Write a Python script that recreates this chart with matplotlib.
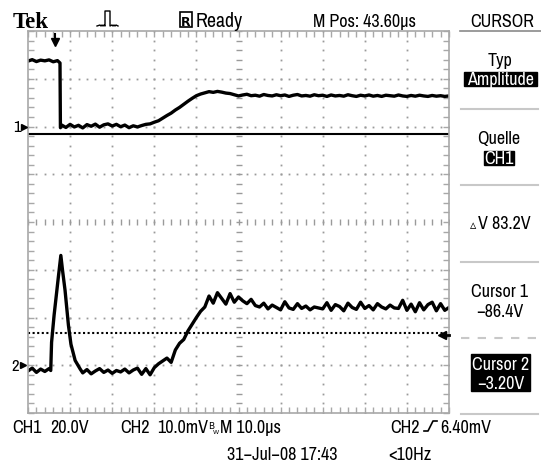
import matplotlib
matplotlib.use("Agg")
import numpy as np
import matplotlib.pyplot as plt
import matplotlib.font_manager as fm
from matplotlib.patches import Rectangle

# --- acquisition settings ---
ch1_scale = 20.0      # V/div
ch2_scale = 10.0      # mV/div
ch1_ground = 2.0      # div
ch2_ground = -3.0     # div
cursor1_v = -86.4     # V (CH1)
cursor2_v = -3.20     # V (CH1)
trig_level_mv = 6.40  # mV (CH2)
trig_pos_us = 6.4     # us from left edge

# --- CH1 trace (time in us, value in V) ---
ch1_time = [0, 1, 2, 3, 4, 5, 6, 7, 7.6, 7.7] + list(range(8, 101))
ch1_volts = [
    27.4, 28.0, 27.2, 27.8, 27.5, 27.9, 27.1, 27.6, 26.6, -0.5,
    0.6, -0.4, 0.9, -0.2, 0.5, -0.6, 0.8, 0.1, 1.0, -0.3, 0.7,
    1.1, 0.2, 0.9, -0.1, 0.6, -0.5, 0.3, -0.2, 0.4, 0.9,
    1.1, 1.8, 2.4, 3.5, 4.6, 5.6, 6.9, 8.0, 9.3, 10.6, 11.8, 12.9,
    13.6, 14.1, 14.6, 14.3, 14.7, 14.4, 14.0, 13.8,
    13.3, 12.8, 13.2, 13.5, 12.9, 13.1, 12.7, 13.4, 13.0, 12.8, 13.3, 12.9, 13.2,
    12.6, 13.1, 13.4, 12.8, 13.0, 12.7, 13.3, 12.9, 13.1, 12.6, 13.2, 12.8, 13.0,
    12.7, 13.3, 12.9, 12.6, 13.1, 12.8, 13.2, 12.7, 13.0, 12.6, 13.1, 12.9, 12.7,
    13.2, 12.8, 12.6, 13.0, 12.7, 13.1, 12.8, 12.6, 13.0, 12.7, 12.9, 12.6, 12.8,
]

# --- CH2 trace (time in us, value in mV) ---
ch2_time = [0, 1, 2, 3, 4, 5, 5.4, 5.6, 6.2, 7.2, 7.8, 8.2, 8.8, 9.6, 10.2,
            11.2, 12.4] + list(range(13, 101))
ch2_mv = [
    -1.2, -0.6, -1.5, -0.8, -1.3, -0.7, -1.1, 4.8, 10.5, 18.4, 23.0, 19.9,
    15.7, 8.4, 4.4, 1.0, -0.8,
    -1.6, -0.9, -1.8, -1.2, -0.7, -1.5, -1.0, -1.7, -1.1, -1.4, -0.8, -1.6,
    -1.0, -0.6, -1.9, -0.7, -2.0, -0.5,
    0.3, 0.9, 1.5, 0.6, 3.2, 4.6, 5.4, 7.2, 8.6, 10.0, 11.3, 12.2, 14.5,
    13.0, 15.2, 14.0, 12.8, 15.0, 13.2, 14.3, 13.5, 12.9, 13.8, 12.5, 12.2,
    13.0, 11.8, 12.6, 12.1, 11.6, 13.3, 12.0, 11.7, 12.9, 11.9, 12.4, 11.6,
    12.2, 12.0, 11.8, 13.1, 11.5, 12.7, 12.3, 11.4, 13.0, 12.1, 11.7, 13.2,
    11.9, 12.5, 11.6, 12.9, 12.2, 11.8, 12.6, 12.0, 11.9, 13.6, 11.5, 12.8,
    11.2, 13.1, 11.6, 12.7, 13.2, 11.4, 12.9, 11.5, 12.1,
]

GRID = "#9a9a9a"
W, H = 541, 464


def find_narrow_font():
    # prefer a narrow/condensed regular face if one is installed
    best = None
    for f in fm.fontManager.ttflist:
        if f.style != "normal" or f.weight not in (400, "normal", "regular"):
            continue
        tag = (f.name + " " + f.fname).lower()
        if "narrow" in tag:
            return f.fname
        if "condensed" in tag and "semi" not in tag and "extra" not in tag:
            best = best or f.fname
        elif f.stretch in ("condensed", "semi-condensed") and best is None:
            best = f.fname
    return best


narrow_path = find_narrow_font()
if narrow_path:
    FONT = fm.FontProperties(fname=narrow_path)
else:
    FONT = fm.FontProperties(family="Liberation Sans")

fig = plt.figure(figsize=(W / 100, H / 100), dpi=100)
fig.patch.set_facecolor("white")

# size the readout font so "M Pos: 43.60us" spans about 105 px
probe = fig.text(0, 0, "M Pos: 43.60\u00b5s", fontproperties=FONT, fontsize=12.5)
pw = probe.get_window_extent(fig.canvas.get_renderer()).width
probe.remove()
FS = min(13.0, 12.5 * 105.0 / pw)

# graticule: 10 x 8 divisions
ax = fig.add_axes([28 / W, 1 - 414 / H, 421 / W, 382 / H])
ax.set_xlim(0, 100)
ax.set_ylim(-4, 4)
for sp in ax.spines.values():
    sp.set_color("#a8a8a8")
    sp.set_linewidth(1.2)
ax.set_xticks(np.arange(0, 101, 2))
ax.set_yticks(np.arange(-4, 4.01, 0.2))
ax.tick_params(direction="in", length=4, width=1, color="#a8a8a8",
               top=True, right=True, labelbottom=False, labelleft=False)

dot_y = np.arange(-4, 4.01, 0.2)
dot_x = np.arange(0, 101, 2)
for gx in range(10, 100, 10):
    if gx == 50:
        ax.plot([gx] * len(dot_y), dot_y, ls="none", marker="_", ms=5,
                mew=1, color=GRID)
    else:
        ax.plot([gx] * len(dot_y), dot_y, ls="none", marker="s", ms=1.3,
                mew=0, color=GRID)
for gy in range(-3, 4):
    if gy == 0:
        ax.plot(dot_x, [gy] * len(dot_x), ls="none", marker="|", ms=5,
                mew=1, color=GRID)
    else:
        ax.plot(dot_x, [gy] * len(dot_x), ls="none", marker="s", ms=1.3,
                mew=0, color=GRID)

# cursors
ax.axhline(ch1_ground + cursor2_v / ch1_scale, color="black", lw=1.5)
ax.axhline(ch1_ground + cursor1_v / ch1_scale, color="black", lw=1.5,
           ls=(0, (1, 1.2)))

# traces
ax.plot(ch1_time, ch1_ground + np.array(ch1_volts) / ch1_scale,
        color="black", lw=2.4)
ax.plot(ch2_time, ch2_ground + np.array(ch2_mv) / ch2_scale,
        color="black", lw=2.4)

# overlay in pixel coordinates for the scope's readouts
ov = fig.add_axes([0, 0, 1, 1], zorder=5)
ov.set_xlim(0, W)
ov.set_ylim(H, 0)
ov.axis("off")
ov.patch.set_alpha(0)


def label(x, y, s, size=None, color="black", ha="left", **kw):
    ov.text(x, y, s, fontproperties=FONT, fontsize=size or FS, color=color,
            ha=ha, va="baseline", **kw)


def to_px_x(t):
    return 28 + t / 100 * 421


def to_px_y(d):
    return 32 + (4 - d) / 8 * 382


# top row
ov.text(13, 28, "Tek", fontsize=16.5, family="Liberation Serif",
        weight="bold", va="baseline")
ov.plot([97, 100, 101, 102, 103, 104, 105, 105, 110, 110, 112, 113, 114,
         115, 116, 118], [27, 26, 27, 26, 27, 26, 27, 12, 12, 27, 26, 27,
                          26, 27, 26, 27], color="black", lw=1)
ov.add_patch(Rectangle((180, 13), 12, 15, fill=False, ec="black", lw=1.2))
ov.text(186, 25.5, "R", fontsize=9, family="DejaVu Sans", weight="bold",
        ha="center", va="baseline")
label(196, 27, "Ready", size=FS * 1.1)
label(313, 27, "M Pos: 43.60\u00b5s")
label(470, 27, "CURSOR")
ov.plot([460, 541], [32, 32], color="#8a8a8a", lw=1.2)

# trigger position arrow
tx = to_px_x(trig_pos_us)
ov.plot([tx, tx], [35, 41], color="black", lw=1.5)
ov.plot([tx], [43], marker="v", ms=6, color="black")

# channel ground markers
label(13, to_px_y(ch1_ground) + 5, "1", size=12)
ov.plot([24], [to_px_y(ch1_ground)], marker=">", ms=4, color="black")
label(11, to_px_y(ch2_ground) + 5, "2", size=12)
ov.plot([23], [to_px_y(ch2_ground)], marker=">", ms=4, color="black")

# trigger level marker
ty = to_px_y(ch2_ground + trig_level_mv / ch2_scale)
ov.plot([443, 449], [ty, ty], color="black", lw=2)
ov.plot([442], [ty], marker="<", ms=6, color="black")

# side menu
label(500, 66, "Typ", ha="center")
ov.add_patch(Rectangle((464, 73), 73, 14, color="black"))
label(500.5, 85, "Amplitude", ha="center", color="white")
ov.plot([461, 538], [110, 110], color="#c8c8c8", lw=1.5)
label(499, 144, "Quelle", ha="center")
ov.add_patch(Rectangle((484, 152), 30, 14, color="black"))
label(499, 164, "CH1", ha="center", color="white")
ov.plot([461, 538], [186, 186], color="#c8c8c8", lw=1.5)
ov.text(470, 229, "\u25b5", fontsize=9, family="DejaVu Sans", va="baseline")
label(478, 229, "V 83.2V")
ov.plot([461, 538], [263, 263], color="#c8c8c8", lw=1.5)
label(500, 297, "Cursor 1", ha="center")
label(500, 317, "\u221286.4V", ha="center")
ov.plot([461, 538], [339, 339], color="#c8c8c8", lw=1.5, ls=(0, (4, 4)))
ov.add_patch(Rectangle((471, 355), 59, 37, color="black"))
label(500.5, 370, "Cursor 2", ha="center", color="white")
label(500.5, 389, "\u22123.20V", ha="center", color="white")
ov.plot([461, 538], [415, 415], color="#c8c8c8", lw=1.5)

# bottom readouts
label(12, 433, "CH1")
label(50, 433, "20.0V")
label(120, 433, "CH2")
label(157, 433, "10.0mV")
ov.text(208, 429, "B", fontsize=6.5, family="DejaVu Sans", va="baseline")
ov.text(213, 434, "W", fontsize=4.5, family="DejaVu Sans", va="baseline")
label(220, 433, "M 10.0\u00b5s")
label(390, 433, "CH2")
ov.plot([424, 428, 433, 437], [432, 432, 422, 422], color="black", lw=1.2)
label(440, 433, "6.40mV")
label(227, 460, "31\u2212Jul\u221208 17:43")
label(388, 460, "<10Hz")

fig.savefig("out.png", dpi=100)
